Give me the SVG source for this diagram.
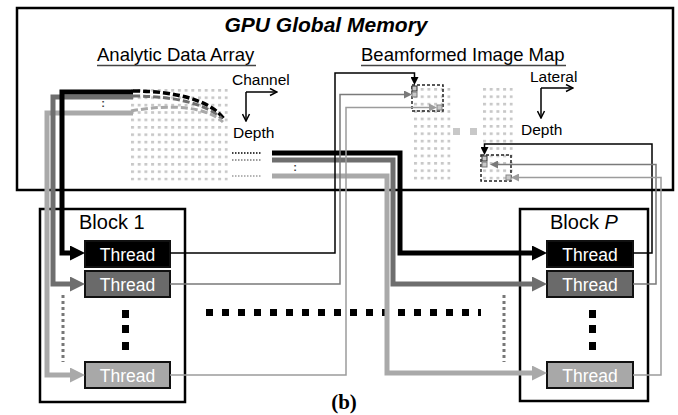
<svg xmlns="http://www.w3.org/2000/svg" width="678" height="415" viewBox="0 0 678 415">
  <style>
    .sans { font-family: "Liberation Sans", Arial, sans-serif; }
    .frame { fill: none; stroke: #000; stroke-width: 2.5; }
    .thread { stroke: #111; stroke-width: 2; }
    .thread-text { font-family: "Liberation Sans", Arial, sans-serif; font-size: 17.5px; fill: #fff; text-anchor: middle; }
    .block-label { font-family: "Liberation Sans", Arial, sans-serif; font-size: 20px; fill: #000; }
    .heading { font-family: "Liberation Sans", Arial, sans-serif; font-size: 18.5px; fill: #000; }
    .axis-label { font-family: "Liberation Sans", Arial, sans-serif; font-size: 15.5px; fill: #000; }
    .axis { fill: none; stroke: #000; stroke-width: 1.5; }
    .thick { fill: none; stroke-width: 5; stroke-linejoin: miter; }
    .thin { fill: none; stroke-width: 1.5; }
    .k { stroke: #000; }
    .dg { stroke: #6e6e6e; }
    .lg { stroke: #a9a9a9; }
    .tdg { stroke: #7a7a7a; }
    .tlg { stroke: #9c9c9c; }
    .curve { fill: none; stroke-dasharray: 7 3; }
    .dotline { fill: none; stroke-width: 1.5; stroke-dasharray: 1.5 1.5; }
    .vdots { fill: none; stroke: #777; stroke-width: 3; stroke-dasharray: 3 3; }
    .ellipsis { fill: #000; }
    .tile { fill: none; stroke: #222; stroke-width: 1.5; stroke-dasharray: 3 2; }
    .px { fill: #c8c8c8; stroke-width: 1; }
    .colon { font-family: "Liberation Sans", Arial, sans-serif; font-size: 11px; font-weight: bold; fill: #444; text-anchor: middle; }
  </style>
  <defs>
    <pattern id="cells" patternUnits="userSpaceOnUse" width="6.7" height="7.4">
      <rect x="0" y="0" width="3" height="2.6" fill="#c8c8c8"/>
    </pattern>
    <marker id="bigK" markerUnits="userSpaceOnUse" markerWidth="15" markerHeight="15" viewBox="0 0 15 15" refX="0" refY="7.5" orient="auto">
      <path d="M0,0 L15,7.5 L0,15 z" fill="#000"/>
    </marker>
    <marker id="bigDG" markerUnits="userSpaceOnUse" markerWidth="15" markerHeight="15" viewBox="0 0 15 15" refX="0" refY="7.5" orient="auto">
      <path d="M0,0 L15,7.5 L0,15 z" fill="#6e6e6e"/>
    </marker>
    <marker id="bigLG" markerUnits="userSpaceOnUse" markerWidth="15" markerHeight="15" viewBox="0 0 15 15" refX="0" refY="7.5" orient="auto">
      <path d="M0,0 L15,7.5 L0,15 z" fill="#a9a9a9"/>
    </marker>
    <marker id="smK" markerUnits="userSpaceOnUse" markerWidth="8" markerHeight="8" viewBox="0 0 8 8" refX="0" refY="4" orient="auto">
      <path d="M0,0 L8,4 L0,8 z" fill="#000"/>
    </marker>
    <marker id="smDG" markerUnits="userSpaceOnUse" markerWidth="8" markerHeight="8" viewBox="0 0 8 8" refX="0" refY="4" orient="auto">
      <path d="M0,0 L8,4 L0,8 z" fill="#7a7a7a"/>
    </marker>
    <marker id="smLG" markerUnits="userSpaceOnUse" markerWidth="8" markerHeight="8" viewBox="0 0 8 8" refX="0" refY="4" orient="auto">
      <path d="M0,0 L8,4 L0,8 z" fill="#9c9c9c"/>
    </marker>
    <marker id="open" markerUnits="userSpaceOnUse" markerWidth="9" markerHeight="9" viewBox="0 0 9 9" refX="8" refY="4.5" orient="auto">
      <path d="M1,1 L8,4.5 L1,8" fill="none" stroke="#000" stroke-width="1.5"/>
    </marker>
  </defs>

  <rect width="678" height="415" fill="#fff"/>

  <!-- global memory container -->
  <g id="gpu-memory">
    <rect class="frame" x="17" y="8" width="656" height="182"/>
    <text class="sans" x="326" y="32" font-size="21" font-weight="bold" font-style="italic" text-anchor="middle">GPU Global Memory</text>
  </g>

  <!-- analytic data array -->
  <g id="analytic-data">
    <text class="heading" x="97" y="61">Analytic Data Array</text>
    <line x1="97" y1="65.5" x2="256" y2="65.5" stroke="#444" stroke-width="1.5"/>
    <g transform="translate(131,89)">
      <rect x="0" y="0" width="96.8" height="91.6" fill="url(#cells)"/>
    </g>
    <text class="axis-label" x="232" y="85">Channel</text>
    <path class="axis" d="M246,92 V121" marker-end="url(#open)"/>
    <path class="axis" d="M246,92 H277" marker-end="url(#open)"/>
    <text class="axis-label" x="233" y="138">Depth</text>
    <path class="dotline k" d="M232,153 H262"/>
    <path class="dotline tdg" d="M232,160 H262"/>
    <path class="dotline tlg" d="M232,176 H262"/>
    <text class="colon" x="103" y="107">:</text>
    <text class="colon" x="295" y="171">:</text>
  </g>

  <!-- beamformed image map -->
  <g id="image-map">
    <text class="heading" x="361" y="61">Beamformed Image Map</text>
    <line x1="361" y1="65.5" x2="566" y2="65.5" stroke="#444" stroke-width="1.5"/>
    <g transform="translate(414,88)">
      <rect x="0" y="0" width="36.5" height="91.8" fill="url(#cells)"/>
    </g>
    <g transform="translate(483,88)">
      <rect x="0" y="0" width="29.8" height="91.8" fill="url(#cells)"/>
    </g>
    <rect x="453" y="128" width="7" height="7" fill="#c8c8c8"/>
    <rect x="470" y="128" width="7" height="7" fill="#c8c8c8"/>
    <rect class="tile" x="412" y="85" width="31" height="26"/>
    <rect class="tile" x="481" y="155" width="30" height="26"/>
    <rect class="px" x="412" y="86" width="5" height="5" stroke="#333"/>
    <rect class="px" x="412" y="92" width="5" height="5" stroke="#777"/>
    <rect class="px" x="437" y="105" width="5" height="5" stroke="#888"/>
    <rect class="px" x="482" y="156" width="5" height="5" stroke="#333"/>
    <rect class="px" x="482" y="162" width="5" height="5" stroke="#777"/>
    <rect class="px" x="506" y="175" width="5" height="5" stroke="#888"/>
    <text class="axis-label" x="530" y="82">Lateral</text>
    <path class="axis" d="M541,88 V118" marker-end="url(#open)"/>
    <path class="axis" d="M541,88 H573" marker-end="url(#open)"/>
    <text class="axis-label" x="521" y="135">Depth</text>
  </g>

  <!-- thread block 1 -->
  <g id="block-1">
    <rect class="frame" x="40" y="209" width="145" height="193" stroke-width="2"/>
    <text class="block-label" x="79" y="229">Block 1</text>
    <rect class="thread" x="85" y="241" width="85" height="26" fill="#000"/>
    <text class="thread-text" x="127.5" y="261">Thread</text>
    <rect class="thread" x="85" y="271" width="85" height="26" fill="#6a6a6a"/>
    <text class="thread-text" x="127.5" y="291">Thread</text>
    <rect class="thread" x="85" y="362" width="85" height="26" fill="#a8a8a8"/>
    <text class="thread-text" x="127.5" y="382">Thread</text>
    <rect class="ellipsis" x="122" y="310" width="7" height="8"/>
    <rect class="ellipsis" x="122" y="325" width="7" height="8"/>
    <rect class="ellipsis" x="122" y="342" width="7" height="8"/>
    <path class="vdots" d="M63,295 V362"/>
  </g>

  <!-- thread block P -->
  <g id="block-p">
    <rect class="frame" x="520" y="209" width="128" height="192" stroke-width="2"/>
    <text class="block-label" x="550" y="229">Block <tspan font-style="italic">P</tspan></text>
    <rect class="thread" x="547" y="241" width="86" height="26" fill="#000"/>
    <text class="thread-text" x="590" y="261">Thread</text>
    <rect class="thread" x="547" y="271" width="86" height="26" fill="#6a6a6a"/>
    <text class="thread-text" x="590" y="291">Thread</text>
    <rect class="thread" x="547" y="362" width="86" height="26" fill="#a8a8a8"/>
    <text class="thread-text" x="590" y="382">Thread</text>
    <rect class="ellipsis" x="589" y="310" width="7" height="8"/>
    <rect class="ellipsis" x="589" y="325" width="7" height="8"/>
    <rect class="ellipsis" x="589" y="342" width="7" height="8"/>
    <path class="vdots" d="M504,295 V362"/>
  </g>

  <!-- further blocks between 1 and P -->
  <g id="more-blocks">
    <path d="M206,312.5 H481" fill="none" stroke="#000" stroke-width="7" stroke-dasharray="7 9"/>
  </g>

  <!-- data paths -->
  <g id="connectors">
    <!-- reads from the analytic array into block 1 -->
    <path class="curve k" stroke-width="3.5" d="M133,91 C175,91 210,100 224,119"/>
    <path class="curve dg" stroke-width="3" d="M133,96 C175,96 207,104 222,119"/>
    <path class="curve lg" stroke-width="3" d="M131,111 C170,104 205,106 223,122"/>
    <path class="thick lg" d="M133,113 H47 V375 H70" marker-end="url(#bigLG)"/>
    <path class="thick dg" d="M133,97 H53 V284 H70" marker-end="url(#bigDG)"/>
    <path class="thick k" d="M133,92 H62 V253 H70" marker-end="url(#bigK)"/>

    <!-- reads from the analytic array into block P -->
    <path class="thick lg" d="M272,176 H387 V373 H532" marker-end="url(#bigLG)"/>
    <path class="thick dg" d="M272,160 H393 V284 H532" marker-end="url(#bigDG)"/>
    <path class="thick k" d="M272,153 H400 V253 H532" marker-end="url(#bigK)"/>

    <!-- writes from block 1 into the first tile -->
    <path class="thin k" d="M170,253 H335 V73 H414.5 V77" marker-end="url(#smK)"/>
    <path class="thin tdg" d="M170,284 H340 V94.5 H404" marker-end="url(#smDG)"/>
    <path class="thin tlg" d="M170,375 H346 V107.5 H429" marker-end="url(#smLG)"/>

    <!-- writes from block P into the second tile -->
    <path class="thin k" d="M633,253 H652 V144 H484.5 V147" marker-end="url(#smK)"/>
    <path class="thin tdg" d="M633,284 H656 V164.5 H498" marker-end="url(#smDG)"/>
    <path class="thin tlg" d="M633,375 H661 V177.5 H519" marker-end="url(#smLG)"/>
  </g>

  <text id="caption" x="344" y="409" font-family="'Liberation Serif', 'Times New Roman', serif" font-size="21" font-weight="bold" text-anchor="middle">(b)</text>
</svg>
